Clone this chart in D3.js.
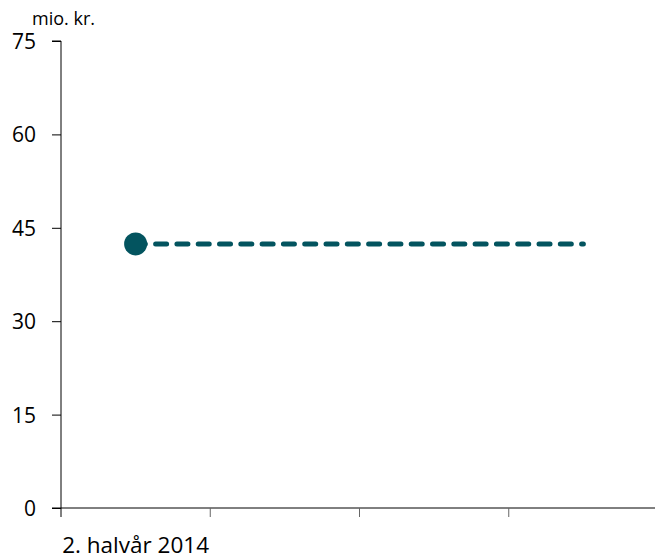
<!DOCTYPE html>
<html><head><meta charset="utf-8">
<script src="https://cdn.jsdelivr.net/npm/d3@7"></script>
<style>body{margin:0;background:#fff}svg{display:block}text{font-family:"Open Sans","Noto Sans",sans-serif;fill:#000}</style>
</head><body><svg id="c" width="655" height="559"></svg>
<script>
const categories = ["2. halvår 2014", "1. halvår 2015", "2. halvår 2015", "1. halvår 2016"];
const tickLabels = ["2. halvår 2014", "", "", ""];
const pointValues = [42.4];
const dashedValues = [42.4, 42.4, 42.4, 42.4];
const yTicks = [0, 15, 30, 45, 60, 75];
const unitLabel = "mio. kr.";

const svg = d3.select("#c");
const color = "#03545f";
const x = d3.scaleBand().domain(categories).range([61, 658]);
const y = d3.scaleLinear().domain([0, 75]).range([508, 41]);

// y axis
const ya = svg.append("g").attr("transform", "translate(61,0)")
  .call(d3.axisLeft(y).tickValues(yTicks).tickSize(9).tickFormat(d3.format("d")));
ya.selectAll(".tick text").style("font-size", "21px").attr("text-anchor","end").attr("x", -25).attr("dy", "0.36em");
ya.select(".domain").attr("d", "M-9,41H0V508");
ya.selectAll("line,path").attr("stroke", "#000");

// x axis
const xa = svg.append("g").attr("transform", "translate(0,508)")
  .call(d3.axisBottom(x).tickValues([]).tickSize(0));
xa.select(".domain").attr("d", "M52,0H655").attr("stroke", "#000");
const bounds = categories.map(c => x(c));
xa.selectAll(".bt").data(bounds).enter().append("line")
  .attr("x1", d => d).attr("x2", d => d).attr("y1", 0).attr("y2", 9)
  .attr("stroke", (d,i)=> i===0 ? "#000" : "#666");
xa.selectAll(".lbl").data(categories).enter().append("text")
  .attr("x", d => x(d) + x.bandwidth()/2).attr("y", 45)
  .attr("text-anchor", "middle").style("font-size", "22.5px")
  .text((d,i) => tickLabels[i]);

// unit label
svg.append("text").attr("x", 32).attr("y", 25).style("font-size", "18px").text(unitLabel);

// dashed line
const line = d3.line().x((d,i) => x(categories[i]) + x.bandwidth()/2).y(d => y(d));
svg.append("path").datum(dashedValues).attr("d", line)
  .attr("fill", "none").attr("stroke", color).attr("stroke-width", 5)
  .attr("stroke-linecap", "round").attr("stroke-dasharray", "11,10.3")
  .attr("stroke-dashoffset", -20);

// point
svg.selectAll(".pt").data(pointValues).enter().append("circle")
  .attr("cx", (d,i) => x(categories[i]) + x.bandwidth()/2).attr("cy", d => y(d))
  .attr("r", 11.5).attr("fill", color);
</script></body></html>
